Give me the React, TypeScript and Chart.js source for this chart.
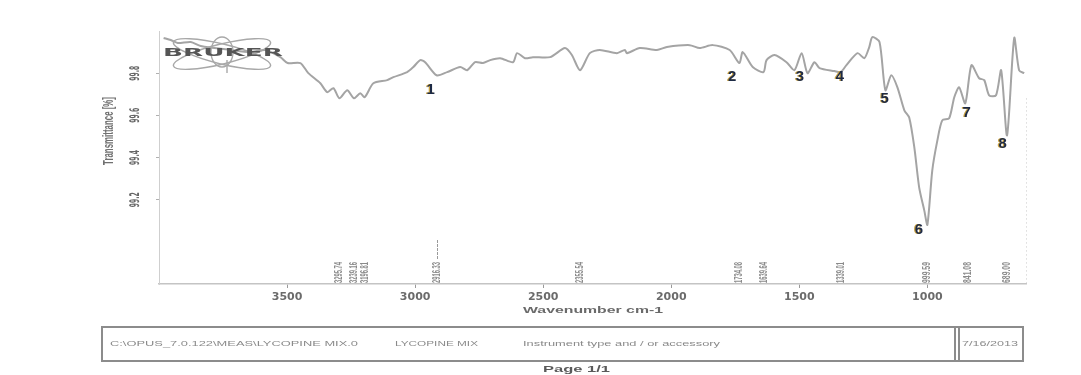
import React, { useEffect, useRef } from "react";
import { Chart, registerables } from "chart.js";

Chart.register(...registerables);

// ---- spectrum (wavenumber cm-1 / transmittance %) ----
const wavenumbers: number[] = [
  3982, 3954, 3927, 3876, 3837, 3721, 3643, 3584, 3526, 3498, 3448, 3417, 3370, 3343, 3319, 3296, 3265, 3239, 3214, 3197,
  3163, 3109, 3085, 3031, 3007, 2980, 2961, 2916, 2875, 2824, 2797, 2766, 2735, 2707, 2668, 2618, 2602, 2571, 2540, 2473,
  2415, 2388, 2356, 2318, 2279, 2212, 2181, 2173, 2123, 2056, 2017, 1928, 1889, 1838, 1772, 1734, 1721, 1682, 1640, 1628,
  1597, 1550, 1519, 1491, 1468, 1441, 1421, 1363, 1339, 1316, 1273, 1246, 1227, 1215, 1187, 1164, 1141, 1117, 1090, 1071,
  1051, 1032, 1012, 1000, 981, 961, 942, 915, 895, 876, 852, 828, 798, 778, 759, 732, 712, 689, 661, 642, 622,
];
const transmittance: number[] = [
  99.967, 99.957, 99.943, 99.948, 99.929, 99.91, 99.9, 99.91, 99.876, 99.848, 99.848, 99.8, 99.752, 99.71, 99.729, 99.681, 99.719, 99.681, 99.705, 99.686,
  99.752, 99.767, 99.781, 99.805, 99.829, 99.862, 99.852, 99.79, 99.805, 99.829, 99.814, 99.852, 99.848, 99.862, 99.871, 99.852, 99.895, 99.871, 99.876, 99.876,
  99.919, 99.886, 99.814, 99.895, 99.91, 99.895, 99.91, 99.895, 99.919, 99.91, 99.924, 99.933, 99.919, 99.933, 99.91, 99.848, 99.9, 99.829, 99.805, 99.862,
  99.886, 99.852, 99.814, 99.895, 99.8, 99.852, 99.824, 99.81, 99.805, 99.838, 99.895, 99.871, 99.924, 99.971, 99.948, 99.719, 99.79, 99.733, 99.624, 99.59,
  99.448, 99.257, 99.148, 99.081, 99.338, 99.481, 99.576, 99.586, 99.686, 99.733, 99.657, 99.838, 99.776, 99.767, 99.695, 99.695, 99.814, 99.505, 99.967, 99.814, 99.8,
];

const xTicks: number[] = [3500, 3000, 2500, 2000, 1500, 1000];
const yTicks: number[] = [99.2, 99.4, 99.6, 99.8];

// peak-pick labels printed along the bottom of the plot
const peakWavenumbers: number[] = [3295.74, 3239.16, 3196.81, 2916.33, 2355.54, 1734.08, 1639.64, 1339.01, 999.59, 841.08, 689.0];

// hand-added band numbers
const bandLabels: string[] = ["1", "2", "3", "4", "5", "6", "7", "8"];
const bandWavenumbers: number[] = [2941, 1764, 1499, 1343, 1168, 1035, 848, 708];
const bandTransmittance: number[] = [99.719, 99.781, 99.781, 99.781, 99.676, 99.057, 99.614, 99.467];

const xTitle = "Wavenumber cm-1";
const yTitle = "Transmittance [%]";
const logoText = "BRUKER";
const footerFile = "C:\\OPUS_7.0.122\\MEAS\\LYCOPINE MIX.0";
const footerSample = "LYCOPINE MIX";
const footerInstrument = "Instrument type and / or accessory";
const footerDate = "7/16/2013";
const pageText = "Page 1/1";

const W = 1081;
const H = 375;

function stretched(
  ctx: CanvasRenderingContext2D,
  text: string,
  x0: number,
  x1: number,
  cy: number,
  font: string,
  color: string
) {
  ctx.save();
  ctx.font = font;
  ctx.fillStyle = color;
  ctx.textAlign = "left";
  ctx.textBaseline = "middle";
  const w = ctx.measureText(text).width;
  ctx.translate(x0, cy);
  ctx.scale((x1 - x0) / w, 1);
  ctx.fillText(text, 0, 0);
  ctx.restore();
}

// rotated (-90deg) text, length along the vertical, thickness stretched horizontally
function vertical(
  ctx: CanvasRenderingContext2D,
  text: string,
  cx: number,
  yStart: number,
  length: number,
  thick: number,
  font: string,
  color: string,
  align: "center" | "left"
) {
  ctx.save();
  ctx.font = font;
  ctx.fillStyle = color;
  ctx.textAlign = "left";
  ctx.textBaseline = "middle";
  const w = ctx.measureText(text).width;
  ctx.translate(cx, yStart);
  ctx.rotate(-Math.PI / 2);
  ctx.scale(length / w, thick);
  ctx.fillText(text, align === "center" ? -w / 2 : 0, 0);
  ctx.restore();
}

const decor = {
  id: "decor",
  afterDraw(chart: any) {
    const ctx: CanvasRenderingContext2D = chart.ctx;
    const xs = chart.scales.x;
    const ys = chart.scales.y;
    const area = chart.chartArea;
    ctx.save();

    // right dotted frame line
    ctx.strokeStyle = "#c9c9c9";
    ctx.lineWidth = 1;
    ctx.setLineDash([1, 3]);
    ctx.beginPath();
    ctx.moveTo(area.right + 0.5, ys.getPixelForValue(99.68));
    ctx.lineTo(area.right + 0.5, area.bottom);
    ctx.stroke();
    ctx.setLineDash([]);

    // y tick labels (rotated, stretched like the scan)
    ys.ticks.forEach((t: any) => {
      const py = ys.getPixelForValue(t.value);
      vertical(ctx, t.value.toFixed(1), 136, py, 15, 1.9, "bold 7px 'DejaVu Sans'", "#666666", "center");
    });

    // y title
    vertical(ctx, yTitle, 109, 131, 68, 1.9, "bold 8px 'Liberation Sans'", "#707070", "center");

    // x title
    stretched(ctx, xTitle, 523, 663, 311, "bold 9px 'Liberation Sans'", "#6a6a6a");

    // peak-pick labels
    peakWavenumbers.forEach((w) => {
      const px = xs.getPixelForValue(w);
      vertical(ctx, w.toFixed(2), px, 283, 21, 1.8, "bold 6px 'Liberation Sans'", "#8a8a8a", "left");
    });
    // marker line above 2916.33
    ctx.strokeStyle = "#9a9a9a";
    ctx.lineWidth = 1;
    ctx.setLineDash([3, 1]);
    const mx = Math.round(xs.getPixelForValue(peakWavenumbers[3])) + 0.5;
    ctx.beginPath();
    ctx.moveTo(mx, 240);
    ctx.lineTo(mx, 259);
    ctx.stroke();
    ctx.setLineDash([]);

    // Bruker logo
    ctx.strokeStyle = "#a8a8a8";
    ctx.lineWidth = 1.4;
    ctx.beginPath();
    ctx.ellipse(222, 54, 50, 10, 0.24, 0, Math.PI * 2);
    ctx.stroke();
    ctx.beginPath();
    ctx.ellipse(222, 54, 50, 10, -0.24, 0, Math.PI * 2);
    ctx.stroke();
    ctx.beginPath();
    ctx.ellipse(222, 52, 11, 15, 0, 0, Math.PI * 2);
    ctx.stroke();
    ctx.beginPath();
    ctx.moveTo(227, 60);
    ctx.lineTo(227, 73);
    ctx.stroke();
    stretched(ctx, logoText, 163, 283, 53, "bold 11px 'DejaVu Sans'", "#555555");

    // band numbers
    ctx.font = "bold 15px 'Liberation Sans'";
    ctx.textAlign = "center";
    ctx.textBaseline = "middle";
    bandLabels.forEach((lab, i) => {
      const px = xs.getPixelForValue(bandWavenumbers[i]);
      const py = ys.getPixelForValue(bandTransmittance[i]);
      ctx.fillStyle = "#c8a040";
      ctx.fillText(lab, px - 0.8, py);
      ctx.fillStyle = "#1d2a45";
      ctx.fillText(lab, px + 0.4, py);
    });

    // footer box
    ctx.strokeStyle = "#8c8c8c";
    ctx.lineWidth = 2;
    ctx.strokeRect(102, 327, 921, 34);
    ctx.beginPath();
    ctx.moveTo(955, 327);
    ctx.lineTo(955, 361);
    ctx.moveTo(959, 327);
    ctx.lineTo(959, 361);
    ctx.stroke();
    stretched(ctx, footerFile, 110, 358, 344, "7px 'Liberation Sans'", "#8a8a8a");
    stretched(ctx, footerSample, 395, 478, 344, "7px 'Liberation Sans'", "#8a8a8a");
    stretched(ctx, footerInstrument, 523, 720, 344, "7px 'Liberation Sans'", "#8a8a8a");
    stretched(ctx, footerDate, 962, 1018, 344, "7px 'Liberation Sans'", "#8a8a8a");
    stretched(ctx, pageText, 543, 610, 370, "bold 9px 'Liberation Sans'", "#5a5a5a");

    ctx.restore();
  },
};

export default function App() {
  const ref = useRef<HTMLCanvasElement | null>(null);

  useEffect(() => {
    const canvas = ref.current;
    if (!canvas) return;
    const chart = new Chart(canvas, {
      type: "line",
      data: {
        datasets: [
          {
            data: wavenumbers.map((w, i) => ({ x: w, y: transmittance[i] })),
            borderColor: "#a4a4a4",
            borderWidth: 2,
            pointRadius: 0,
            fill: false,
            tension: 0.25,
          } as any,
        ],
      },
      options: {
        responsive: false,
        animation: false,
        events: [],
        layout: { padding: { top: 31, right: 55, left: 0, bottom: 0 } },
        plugins: {
          legend: { display: false },
          tooltip: { enabled: false },
          title: { display: false },
        },
        scales: {
          x: {
            type: "linear",
            reverse: true,
            min: 615,
            max: 4000,
            afterBuildTicks: (s: any) => {
              s.ticks = xTicks.map((v) => ({ value: v }));
            },
            afterFit: (s: any) => {
              s.height = 91;
            },
            ticks: {
              color: "#6b6b6b",
              font: { family: "'DejaVu Sans'", size: 11, weight: "bold" },
              padding: 3,
              maxRotation: 0,
              autoSkip: false,
              callback: (v: any) => String(v),
            },
            grid: { display: true, drawOnChartArea: false, drawTicks: true, tickLength: 4, color: "#9a9a9a" },
            border: { display: true, color: "#c4c4c4", width: 1.5, dash: [10, 3] },
          },
          y: {
            type: "linear",
            min: 98.8,
            max: 100,
            afterBuildTicks: (s: any) => {
              s.ticks = yTicks.map((v) => ({ value: v }));
            },
            afterFit: (s: any) => {
              s.width = 159;
            },
            ticks: { display: false },
            grid: { display: true, drawOnChartArea: false, drawTicks: true, tickLength: 3, color: "#b0b0b0" },
            border: { display: true, color: "#cfcfcf", width: 1, dash: [1, 3] },
          },
        },
      } as any,
      plugins: [decor],
    });
    return () => chart.destroy();
  }, []);

  return (
    <div style={{ position: "fixed", left: 0, top: 0, width: W, height: H, background: "#ffffff" }}>
      <canvas ref={ref} width={W} height={H} style={{ width: W, height: H, display: "block" }} />
    </div>
  );
}
